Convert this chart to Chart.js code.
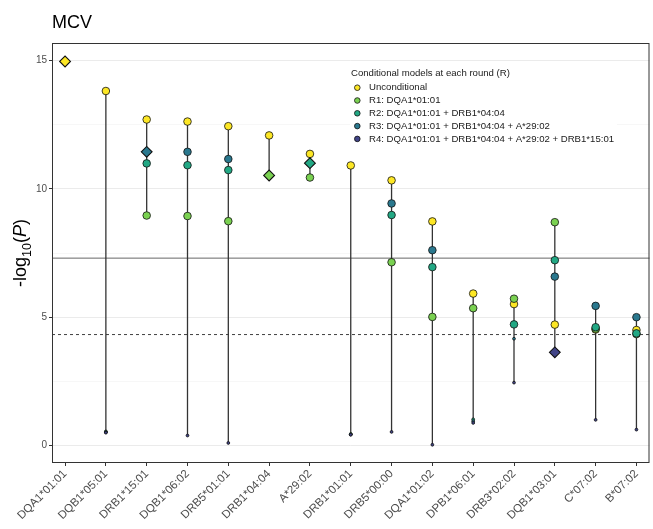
<!DOCTYPE html>
<html>
<head>
<meta charset="utf-8">
<script src="https://cdn.jsdelivr.net/npm/chart.js@4.4.1/dist/chart.umd.min.js"></script>
<style>
  html, body { margin: 0; padding: 0; background: #fff; overflow: hidden; }
  #wrap { width: 656px; height: 529px; position: relative; }
</style>
</head>
<body>
<div id="wrap"><canvas id="chart"></canvas></div>
<script>
// alleles in plot order
var categories = ['DQA1*01:01', 'DQB1*05:01', 'DRB1*15:01', 'DQB1*06:02', 'DRB5*01:01',
  'DRB1*04:04', 'A*29:02', 'DRB1*01:01', 'DRB5*00:00', 'DQA1*01:02',
  'DPB1*06:01', 'DRB3*02:02', 'DQB1*03:01', 'C*07:02', 'B*07:02'];

// -log10(P) for each conditional round (null = allele already in the model)
var unconditional = [14.96, 13.81, 12.70, 12.62, 12.44, 12.08, 11.36, 10.91, 10.33, 8.73, 5.92, 5.51, 4.71, 4.52, 4.50];
var round1 = [null, 0.55, 8.96, 8.94, 8.74, 10.52, 10.44, 0.45, 7.14, 5.01, 5.35, 5.72, 8.70, 4.55, 4.34];
var round2 = [null, 0.53, 10.99, 10.92, 10.73, null, 11.00, 0.44, 8.98, 6.95, 1.02, 4.72, 7.22, 4.61, 4.37];
var round3 = [null, 0.52, 11.44, 11.44, 11.16, null, null, 0.43, 9.43, 7.61, 0.95, 4.16, 6.58, 5.44, 5.00];
var round4 = [null, 0.50, null, 0.39, 0.10, null, null, 0.42, 0.53, 0.03, 0.88, 2.45, 3.63, 1.00, 0.62];

var roundLabels = ['Unconditional', 'R1: DQA1*01:01', 'R2: DQA1*01:01 + DRB1*04:04',
  'R3: DQA1*01:01 + DRB1*04:04 + A*29:02', 'R4: DQA1*01:01 + DRB1*04:04 + A*29:02 + DRB1*15:01'];
var roundColors = ['#FDE725', '#7AD151', '#22A884', '#2A788E', '#414487'];
// top hit of each round, drawn as a diamond
var leadAllele = ['DQA1*01:01', 'DRB1*04:04', 'A*29:02', 'DRB1*15:01', 'DQB1*03:01'];

var genomeWide = 7.3;
var suggestive = 4.32;
var yTickValues = [0, 5, 10, 15];

var FONT = '"Liberation Sans", Arial, Helvetica, sans-serif';
var rounds = [unconditional, round1, round2, round3, round4];

// vertical segment per allele, min to max over rounds
var segs = [];
categories.forEach(function (c, i) {
  var vals = rounds.map(function (r) { return r[i]; }).filter(function (v) { return v != null; });
  if (vals.length > 1) {
    segs.push({x: i, y: Math.min.apply(null, vals)});
    segs.push({x: i, y: Math.max.apply(null, vals)});
    segs.push({x: i, y: null});
  }
});

var datasets = [];
rounds.forEach(function (vals, r) {
  var pts = [];
  vals.forEach(function (v, i) { if (v != null) pts.push({x: i, y: v}); });
  datasets.push({
    type: 'scatter',
    label: roundLabels[r],
    data: pts,
    order: 5 - r,
    backgroundColor: roundColors[r],
    borderColor: '#111',
    pointBackgroundColor: roundColors[r],
    pointBorderColor: '#111',
    pointStyle: function (ctx) {
      return categories[ctx.raw.x] === leadAllele[r] ? 'rectRot' : 'circle';
    },
    pointRadius: function (ctx) {
      if (categories[ctx.raw.x] === leadAllele[r]) return 5.4;
      return ctx.raw.y < suggestive ? 1.4 : 3.8;
    },
    pointBorderWidth: function (ctx) {
      return categories[ctx.raw.x] === leadAllele[r] ? 1.1 : 0.8;
    }
  });
});
datasets.push({
  type: 'line',
  label: 'seg',
  data: segs,
  order: 10,
  borderColor: '#333',
  borderWidth: 1.3,
  pointRadius: 0,
  spanGaps: false
});

var extras = {
  id: 'extras',
  beforeDatasetsDraw: function (chart) {
    var ctx = chart.ctx, a = chart.chartArea, ys = chart.scales.y;
    ctx.save();
    // threshold lines
    var yg = ys.getPixelForValue(genomeWide);
    ctx.strokeStyle = '#666';
    ctx.lineWidth = 1;
    ctx.beginPath(); ctx.moveTo(a.left, yg); ctx.lineTo(a.right, yg); ctx.stroke();
    var yd = ys.getPixelForValue(suggestive);
    ctx.strokeStyle = '#111';
    ctx.lineWidth = 0.8;
    ctx.setLineDash([3, 3]);
    ctx.beginPath(); ctx.moveTo(a.left, yd); ctx.lineTo(a.right, yd); ctx.stroke();
    ctx.setLineDash([]);

    // legend
    ctx.fillStyle = '#fff';
    ctx.fillRect(350, 63, 267, 85);
    ctx.fillStyle = '#1a1a1a';
    ctx.font = '9.6px ' + FONT;
    ctx.textBaseline = 'middle';
    ctx.fillText('Conditional models at each round (R)', 351, 73.5);
    roundLabels.forEach(function (lab, r) {
      var y = 87.7 + r * 12.8;
      ctx.beginPath();
      ctx.arc(357.3, y, 2.8, 0, Math.PI * 2);
      ctx.fillStyle = roundColors[r];
      ctx.fill();
      ctx.strokeStyle = '#111';
      ctx.lineWidth = 0.8;
      ctx.stroke();
      ctx.fillStyle = '#1a1a1a';
      ctx.fillText(lab, 369, y);
    });
    ctx.restore();
  },
  afterDraw: function (chart) {
    var ctx = chart.ctx, a = chart.chartArea;
    ctx.save();
    // panel border
    ctx.strokeStyle = '#333';
    ctx.lineWidth = 1;
    ctx.strokeRect(a.left + 0.5, a.top + 0.5, a.right - a.left - 1, a.bottom - a.top - 1);

    // title
    ctx.fillStyle = '#000';
    ctx.font = '18px ' + FONT;
    ctx.textBaseline = 'alphabetic';
    ctx.fillText('MCV', 52, 28);

    // y axis title: -log10(P)
    var parts = [
      {t: '-log', f: '18px ' + FONT, dy: 0},
      {t: '10', f: '12.5px ' + FONT, dy: 4.5},
      {t: '(', f: '18px ' + FONT, dy: 0},
      {t: 'P', f: 'italic 18px ' + FONT, dy: 0},
      {t: ')', f: '18px ' + FONT, dy: 0}
    ];
    var w = 0;
    parts.forEach(function (p) { ctx.font = p.f; p.w = ctx.measureText(p.t).width; w += p.w; });
    ctx.translate(26, (a.top + a.bottom) / 2);
    ctx.rotate(-Math.PI / 2);
    var x = -w / 2;
    parts.forEach(function (p) {
      ctx.font = p.f;
      ctx.fillText(p.t, x, p.dy);
      x += p.w;
    });
    ctx.restore();
  }
};

new Chart(document.getElementById('chart'), {
  data: {datasets: datasets},
  options: {
    responsive: true,
    maintainAspectRatio: false,
    animation: false,
    layout: {padding: {top: 43, right: 0, left: 0, bottom: 0}},
    plugins: {legend: {display: false}, tooltip: {enabled: false}, title: {display: false}},
    scales: {
      x: {
        type: 'linear',
        min: -0.32,
        max: 14.32,
        afterBuildTicks: function (s) {
          s.ticks = categories.map(function (c, i) { return {value: i}; });
        },
        afterFit: function (s) {
          s.height = 66;
          s.paddingLeft = 0;
          s.paddingRight = 0;
        },
        ticks: {
          autoSkip: false,
          minRotation: 45,
          maxRotation: 45,
          padding: 1,
          color: '#4D4D4D',
          font: {family: FONT, size: 11.5},
          callback: function (v) { return categories[v]; }
        },
        grid: {drawOnChartArea: false, tickLength: 3, color: '#333'},
        border: {display: false}
      },
      y: {
        type: 'linear',
        min: -0.68,
        max: 15.68,
        afterBuildTicks: function (s) {
          var t = [];
          yTickValues.forEach(function (v, k) {
            t.push({value: v});
            if (k < yTickValues.length - 1) t.push({value: (v + yTickValues[k + 1]) / 2});
          });
          s.ticks = t;
        },
        afterFit: function (s) {
          s.width = 52;
          s.paddingTop = 0;
          s.paddingBottom = 0;
        },
        ticks: {
          padding: 2,
          color: '#4D4D4D',
          font: {family: FONT, size: 10},
          callback: function (v) { return yTickValues.indexOf(v) >= 0 ? v : ''; }
        },
        grid: {
          tickLength: 3,
          color: function (c) { return yTickValues.indexOf(c.tick.value) >= 0 ? '#EBEBEB' : '#F3F3F3'; },
          lineWidth: function (c) { return yTickValues.indexOf(c.tick.value) >= 0 ? 1 : 0.7; },
          tickColor: function (c) { return yTickValues.indexOf(c.tick.value) >= 0 ? '#333' : 'rgba(0,0,0,0)'; }
        },
        border: {display: false}
      }
    }
  },
  plugins: [extras]
});
</script>
</body>
</html>
